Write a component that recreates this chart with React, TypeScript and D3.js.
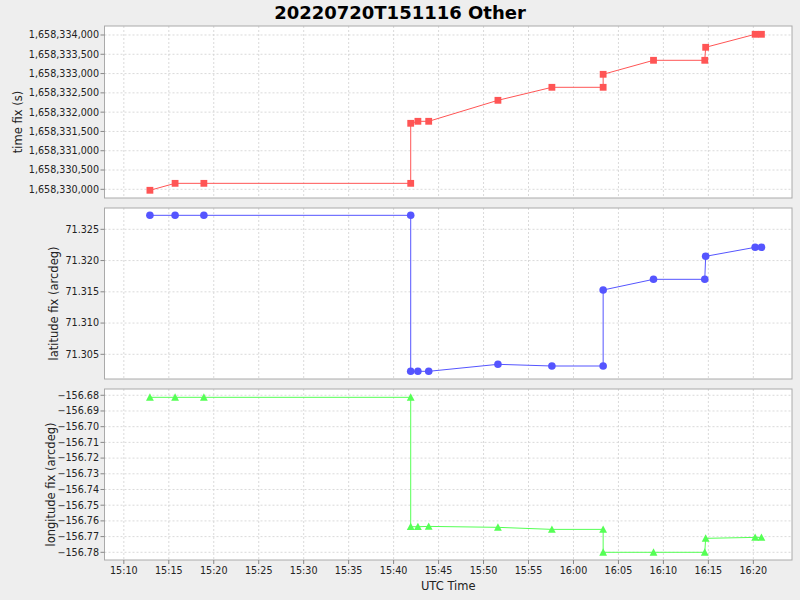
import React from "react";
import * as d3 from "d3";

const times = [
  "15:12:54", "15:15:42", "15:18:54", "15:41:54", "15:41:54", "15:42:42", "15:43:54",
  "15:51:36", "15:57:36", "16:03:18", "16:03:18", "16:08:54", "16:14:36", "16:14:42",
  "16:20:12", "16:20:54",
];
const timeFix = [
  1658329975, 1658330155, 1658330155, 1658330155, 1658331711, 1658331763, 1658331763,
  1658332307, 1658332644, 1658332644, 1658332981, 1658333344, 1658333344, 1658333681,
  1658334018, 1658334018,
];
const latFix = [
  71.32724, 71.32724, 71.32724, 71.32724, 71.30228, 71.30228, 71.30228,
  71.3034, 71.30313, 71.30313, 71.31529, 71.317, 71.317, 71.32068,
  71.32212, 71.32212,
];
const lonFix = [
  -156.6813, -156.6813, -156.6813, -156.6813, -156.7637, -156.7637, -156.7635,
  -156.7641, -156.7654, -156.7654, -156.78, -156.78, -156.78, -156.7711,
  -156.7705, -156.7705,
];
const xTickLabels = ["15:10", "15:15", "15:20", "15:25", "15:30", "15:35", "15:40", "15:45", "15:50", "15:55", "16:00", "16:05", "16:10", "16:15", "16:20"];
const timeTicks = [1658330000, 1658330500, 1658331000, 1658331500, 1658332000, 1658332500, 1658333000, 1658333500, 1658334000];
const latTicks = [71.305, 71.31, 71.315, 71.32, 71.325];
const lonTicks = [-156.68, -156.69, -156.7, -156.71, -156.72, -156.73, -156.74, -156.75, -156.76, -156.77, -156.78];

const parseT = (s: string) => new Date(`2022-07-20T${s}Z`);

const W = 800, H = 600;
const L = 104.5, R = 792;
const FONT = "'DejaVu Sans', sans-serif";

const x = d3.scaleUtc().domain([parseT("15:07:51"), parseT("16:24:18")]).range([L, R]);

type Panel = {
  label: string;
  values: number[];
  domain: [number, number];
  top: number;
  bottom: number;
  ticks: number[];
  fmt: (v: number) => string;
  color: string;
  marker: "square" | "circle" | "triangle";
  labelX: number;
};

const panels: Panel[] = [
  { label: "time fix (s)", values: timeFix, domain: [1658329775, 1658334233], top: 26, bottom: 198, ticks: timeTicks, fmt: d3.format(","), color: "#FF5555", marker: "square", labelX: 18 },
  { label: "latitude fix (arcdeg)", values: latFix, domain: [71.30105, 71.32841], top: 208, bottom: 379, ticks: latTicks, fmt: d3.format(".3f"), color: "#5555FF", marker: "circle", labelX: 54 },
  { label: "longitude fix (arcdeg)", values: lonFix, domain: [-156.7849, -156.676], top: 389, bottom: 560, ticks: lonTicks, fmt: d3.format(".2f"), color: "#55FF55", marker: "triangle", labelX: 51 },
];

function Marker({ kind, cx, cy, color }: { kind: string; cx: number; cy: number; color: string }) {
  if (kind === "square") return <rect x={cx - 3.4} y={cy - 3.4} width={6.8} height={6.8} fill={color} />;
  if (kind === "circle") return <circle cx={cx} cy={cy} r={3.8} fill={color} />;
  return <path d={`M${cx},${cy - 4}L${cx + 3.9},${cy + 3.4}L${cx - 3.9},${cy + 3.4}Z`} fill={color} />;
}

export default function App() {
  const xTicks = xTickLabels.map(parseT);
  return (
    <svg width={W} height={H} style={{ position: "absolute", left: 0, top: 0, display: "block" }} fontFamily={FONT}>
      <rect width={W} height={H} fill="#EEEEEE" />
      <text x={400} y={18.5} textAnchor="middle" fontSize={18} fontWeight="bold" fill="#000">20220720T151116 Other</text>
      {panels.map((p, pi) => {
        const y = d3.scaleLinear().domain(p.domain).range([p.bottom, p.top]);
        const pts = p.values.map((v, i) => [x(parseT(times[i])), y(v)] as [number, number]);
        const line = d3.line()(pts) || "";
        const mid = (p.top + p.bottom) / 2 + 10;
        return (
          <g key={pi}>
            <rect x={L} y={p.top} width={R - L} height={p.bottom - p.top} fill="#FFFFFF" />
            {xTicks.map((t, i) => (
              <line key={"gx" + i} x1={x(t)} x2={x(t)} y1={p.top} y2={p.bottom} stroke="#D0D0D0" strokeWidth={0.8} strokeDasharray="2,2" />
            ))}
            {p.ticks.map((t, i) => (
              <line key={"gy" + i} x1={L} x2={R} y1={y(t)} y2={y(t)} stroke="#D0D0D0" strokeWidth={0.8} strokeDasharray="2,2" />
            ))}
            <rect x={L} y={p.top} width={R - L} height={p.bottom - p.top} fill="none" stroke="#AAAAAA" strokeWidth={1} />
            {p.ticks.map((t, i) => (
              <g key={"ty" + i}>
                <line x1={L - 4} x2={L} y1={y(t)} y2={y(t)} stroke="#888888" strokeWidth={1} />
                <text x={L - 5.5} y={y(t)} dy="0.35em" textAnchor="end" fontSize={9.6} fill="#222">{p.fmt(t)}</text>
              </g>
            ))}
            <text transform={`translate(${p.labelX},${mid}) rotate(-90)`} textAnchor="middle" dy="0.35em" fontSize={11.5} fill="#222">{p.label}</text>
            <path d={line} fill="none" stroke={p.color} strokeWidth={1} />
            {pts.map((pt, i) => (
              <Marker key={"m" + i} kind={p.marker} cx={pt[0]} cy={pt[1]} color={p.color} />
            ))}
          </g>
        );
      })}
      {xTicks.map((t, i) => (
        <g key={"tx" + i}>
          <line x1={x(t)} x2={x(t)} y1={560} y2={564} stroke="#888888" strokeWidth={1} />
          <text x={x(t)} y={574} textAnchor="middle" fontSize={9.6} fill="#222">{xTickLabels[i]}</text>
        </g>
      ))}
      <text x={(L + R) / 2} y={590} textAnchor="middle" fontSize={11.5} fill="#222">UTC Time</text>
    </svg>
  );
}
